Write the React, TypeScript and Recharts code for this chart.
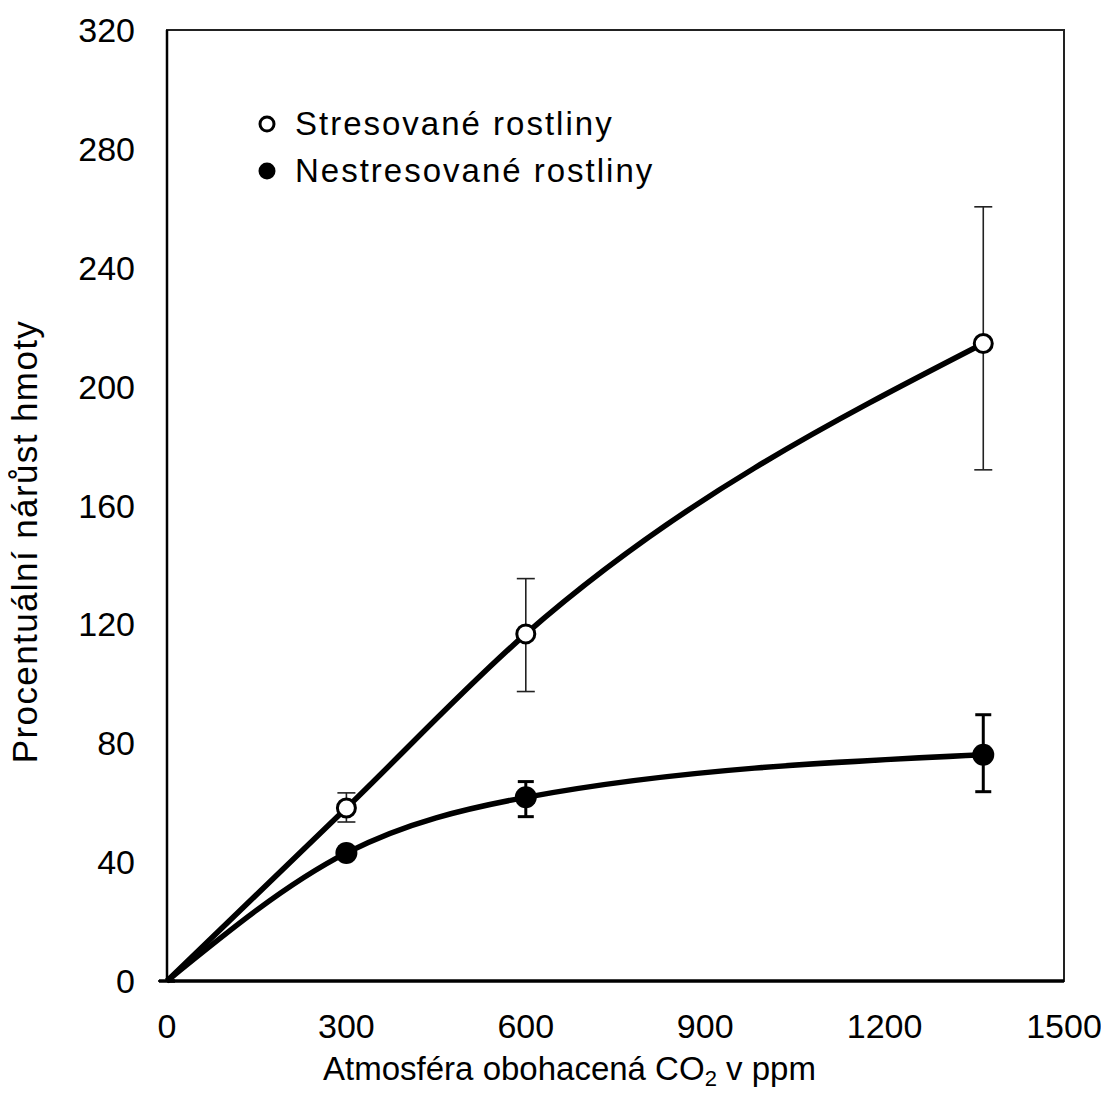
import React from 'react';
import {
  LineChart,
  Line,
  XAxis,
  YAxis,
  ErrorBar,
  ReferenceArea,
  Legend,
  Label,
} from 'recharts';

// CO2 concentration (ppm) at which the plants were grown
const co2 = [0, 300, 600, 1365];

// Percentage increase in biomass, stressed plants (open circles)
const stressed = [0, 58.2, 116.8, 214.5];
const stressedErrLow = [0, 4.7, 19.4, 42.5];
const stressedErrHigh = [0, 5.1, 18.6, 46];

// Percentage increase in biomass, non-stressed plants (filled circles)
const nonStressed = [0, 43.1, 61.8, 76.1];
const nonStressedErrLow = [0, 2, 6.5, 12.4];
const nonStressedErrHigh = [0, 2, 5.3, 13.5];

const xTicks = [0, 300, 600, 900, 1200, 1500];
const yTicks = [0, 40, 80, 120, 160, 200, 240, 280, 320];

const seriesNames = ['Stresované rostliny', 'Nestresované rostliny'];
const xTitle = 'Atmosféra obohacená CO';
const xTitleSub = '2';
const xTitleTail = ' v ppm';
const yTitle = 'Procentuální nárůst hmoty';

const data = co2.map((c, i) => ({
  co2: c,
  stressed: stressed[i],
  stressedErr: [stressedErrLow[i], stressedErrHigh[i]],
  nonStressed: nonStressed[i],
  nonStressedErr: [nonStressedErrLow[i], nonStressedErrHigh[i]],
}));

const FONT = '"Liberation Sans", Arial, Helvetica, sans-serif';

const openDot = (props: any) => {
  const { cx, cy, index, payload } = props;
  if (payload.co2 === 0) return <g key={`os-${index}`} />;
  return (
    <circle key={`os-${index}`} cx={cx} cy={cy} r={9} fill="#fff" stroke="#000" strokeWidth={3} />
  );
};

const filledDot = (props: any) => {
  const { cx, cy, index, payload } = props;
  if (payload.co2 === 0) return <g key={`fn-${index}`} />;
  return <circle key={`fn-${index}`} cx={cx} cy={cy} r={11} fill="#000" stroke="none" />;
};

const renderLegend = () => (
  <svg width={440} height={100} style={{ overflow: 'visible' }}>
    <circle cx={17} cy={29} r={7} fill="#fff" stroke="#000" strokeWidth={3} />
    <text x={45} y={40} fontFamily={FONT} fontSize={33} letterSpacing={2} fill="#000">
      {seriesNames[0]}
    </text>
    <circle cx={17} cy={76} r={8.5} fill="#000" />
    <text x={45} y={87} fontFamily={FONT} fontSize={33} letterSpacing={2} fill="#000">
      {seriesNames[1]}
    </text>
  </svg>
);

const renderXTitle = (props: any) => {
  const { viewBox } = props;
  const cx = viewBox.x + viewBox.width / 2 - 46;
  const y = viewBox.y + 99;
  return (
    <text x={cx} y={y} textAnchor="middle" fontFamily={FONT} fontSize={33} fill="#000">
      {xTitle}
      <tspan fontSize={22} dy={6}>{xTitleSub}</tspan>
      <tspan dy={-6}>{xTitleTail}</tspan>
    </text>
  );
};

const renderYTitle = (props: any) => {
  const { viewBox } = props;
  const x = viewBox.x + 29;
  const y = viewBox.y + viewBox.height / 2 + 36;
  return (
    <text
      x={x}
      y={y}
      textAnchor="middle"
      transform={`rotate(-90 ${x} ${y})`}
      fontFamily={FONT}
      fontSize={35}
      letterSpacing={1.4}
      fill="#000"
    >
      {yTitle}
    </text>
  );
};

const tickStyle = { fontFamily: FONT, fontSize: 34, fill: '#000' };

export default function App() {
  return (
    <div style={{ width: 1101, height: 1090, background: '#fff' }}>
      <LineChart
        width={1101}
        height={1090}
        data={data}
        margin={{ top: 22, right: 45, left: 0, bottom: 0 }}
      >
        <ReferenceArea
          x1={0}
          x2={1500}
          y1={0}
          y2={320}
          fill="none"
          stroke="#222"
          strokeWidth={2}
        />
        <XAxis
          dataKey="co2"
          type="number"
          domain={[0, 1500]}
          ticks={xTicks}
          height={117}
          tickLine={false}
          tickSize={0}
          tickMargin={33}
          tick={tickStyle}
          axisLine={{ stroke: '#000', strokeWidth: 3.5 }}
        >
          <Label content={renderXTitle} />
        </XAxis>
        <XAxis
          xAxisId="inner"
          dataKey="co2"
          type="number"
          domain={[0, 1500]}
          ticks={xTicks}
          height={0}
          mirror
          tick={false}
          tickSize={11}
          axisLine={false}
          tickLine={{ stroke: '#000', strokeWidth: 2.5 }}
        />
        <YAxis
          type="number"
          domain={[0, 320]}
          ticks={yTicks}
          width={159}
          tickLine={false}
          tickSize={0}
          tickMargin={32}
          tick={tickStyle}
          axisLine={{ stroke: '#000', strokeWidth: 2.5 }}
        >
          <Label content={renderYTitle} />
        </YAxis>
        <YAxis
          yAxisId="inner"
          type="number"
          domain={[0, 320]}
          ticks={yTicks}
          width={0}
          mirror
          tick={false}
          tickSize={11}
          axisLine={false}
          tickLine={{ stroke: '#000', strokeWidth: 2.5 }}
        />
        <Legend
          layout="vertical"
          align="center"
          verticalAlign="middle"
          content={renderLegend}
          wrapperStyle={{ left: 242, top: 87, width: 440, height: 100 }}
        />
        <Line
          name={seriesNames[0]}
          dataKey="stressed"
          type="monotone"
          stroke="#000"
          strokeWidth={5.5}
          dot={openDot}
          activeDot={false}
          isAnimationActive={false}
        >
          <ErrorBar
            dataKey="stressedErr"
            direction="y"
            width={9}
            stroke="#222"
            strokeWidth={1.6}
            isAnimationActive={false}
          />
        </Line>
        <Line
          name={seriesNames[1]}
          dataKey="nonStressed"
          type="monotone"
          stroke="#000"
          strokeWidth={5.5}
          dot={filledDot}
          activeDot={false}
          isAnimationActive={false}
        >
          <ErrorBar
            dataKey="nonStressedErr"
            direction="y"
            width={8}
            stroke="#000"
            strokeWidth={3}
            isAnimationActive={false}
          />
        </Line>
      </LineChart>
    </div>
  );
}
